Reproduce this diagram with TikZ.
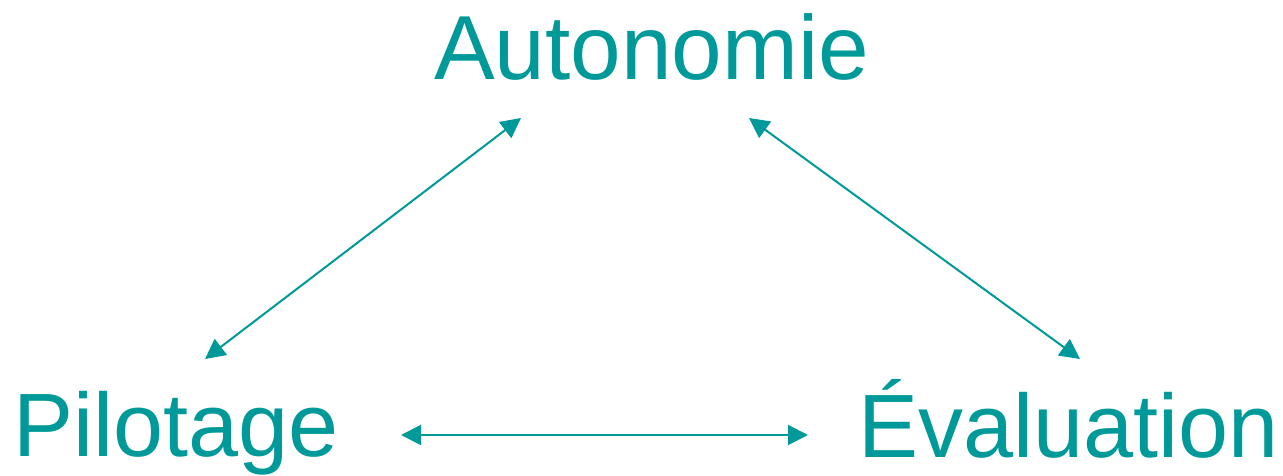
\documentclass[tikz,border=0pt]{standalone}
\usepackage{fontspec}
\setmainfont{Liberation Sans}
\usetikzlibrary{arrows.meta}
\definecolor{teal1}{RGB}{0,153,153}
\begin{document}
\begin{tikzpicture}[x=1pt,y=1pt,
  lbl/.style={anchor=base west,inner sep=0pt,text=teal1,font=\fontsize{90}{100}\selectfont},
  link/.style={draw=teal1,line width=2pt,{Triangle[length=20pt,width=20pt]}-{Triangle[length=20pt,width=20pt]}}]
\useasboundingbox (0,0) rectangle (1283,476);
\node[lbl,font=\fontsize{91}{100}\selectfont] (aut) at (434,396) {Autonomie};
\node[lbl] (pil) at (13,19) {Pilotage};
\node[lbl] (eva) at (858,18) {Évaluation};
\coordinate (pa) at (205,117);
\coordinate (ap) at (521,358);
\coordinate (ae) at (749,358);
\coordinate (ea) at (1080,117);
\coordinate (pe) at (401,41);
\coordinate (ep) at (808,41);
\draw[link] (pa) -- (ap);
\draw[link] (ae) -- (ea);
\draw[link] (pe) -- (ep);
\end{tikzpicture}
\end{document}
